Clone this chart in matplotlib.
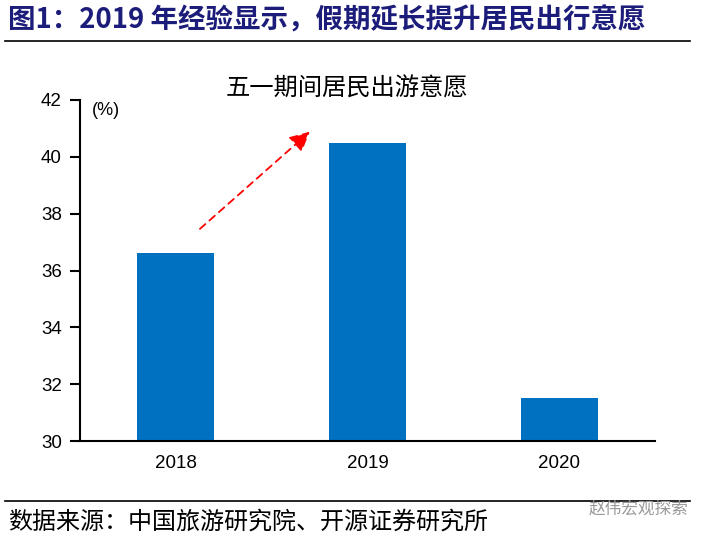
import matplotlib.pyplot as plt

years = ["2018", "2019", "2020"]
willingness = [36.6, 40.5, 31.5]
yticks = [30, 32, 34, 36, 38, 40, 42]

plt.rcParams['font.family'] = ['Liberation Sans', 'Noto Sans CJK SC', 'DejaVu Sans']
cjk = ['Noto Sans CJK SC', 'DejaVu Sans']

fig = plt.figure(figsize=(7.04, 5.39), dpi=100)
ax = fig.add_axes([80 / 704, 1 - 441 / 539, 575 / 704, 341 / 539])

x = range(len(years))
ax.bar(x, willingness, width=0.4, color='#0070C0', zorder=2)
ax.set_xlim(-0.5, 2.5)
ax.set_ylim(30, 42)
ax.set_yticks(yticks)
ax.set_xticks(list(x))
ax.set_xticklabels(years)
ax.tick_params(axis='y', direction='out', length=7, width=1.5, labelsize=13.5, pad=6)
ax.tick_params(axis='x', length=0, labelsize=13.5, pad=10)
for s in ['top', 'right']:
    ax.spines[s].set_visible(False)
ax.spines['left'].set_linewidth(1.5)
ax.spines['bottom'].set_linewidth(1.5)

ax.text(0.02, 0.97, "(%)", transform=ax.transAxes, fontsize=13, va='center', ha='left')
ax.text(0.464, 1.035, "五一期间居民出游意愿", transform=ax.transAxes, family=cjk,
        fontsize=17.5, ha='center', va='center')

# dashed red arrow showing the rise from 2018 to 2019
ax.annotate("", xy=(0.71, 40.95), xytext=(0.115, 37.4),
            arrowprops=dict(arrowstyle='-|>,head_length=1.2,head_width=0.6',
                            color='#FF0000', lw=1.3, linestyle=(0, (4, 3))))

# figure title and rules
fig.text(8 / 704, 1 - 20 / 539, "图1：2019 年经验显示，假期延长提升居民出行意愿",
         family=cjk, fontsize=19.8, fontweight='bold', color='#1C1C7A', va='center', ha='left')
fig.add_artist(plt.Line2D([5 / 704, 690 / 704], [1 - 41 / 539, 1 - 41 / 539], color='black', lw=1.2))
fig.add_artist(plt.Line2D([5 / 704, 690 / 704], [1 - 501 / 539, 1 - 501 / 539], color='black', lw=1.2))

fig.text(8 / 704, 1 - 522 / 539, "数据来源：中国旅游研究院、开源证券研究所",
         family=cjk, fontsize=17.3, color='black', va='center', ha='left')
fig.text(688 / 704, 1 - 509 / 539, "赵伟宏观探索", family=cjk, fontsize=12,
         color='#9A9A9A', va='center', ha='right')

fig.savefig("out.png", dpi=100)
